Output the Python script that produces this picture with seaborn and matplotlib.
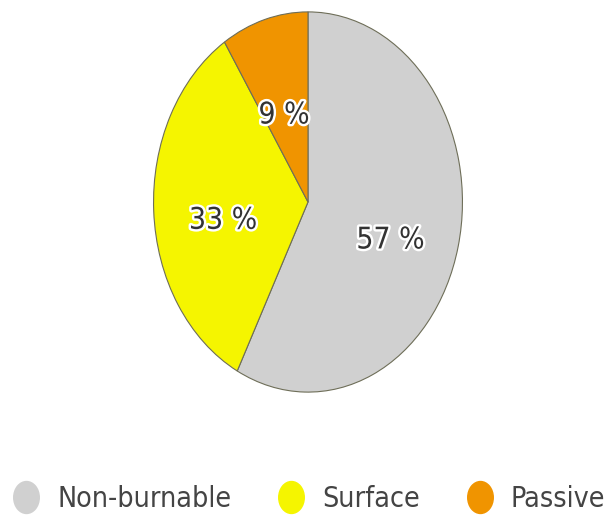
import matplotlib
matplotlib.use('Agg')
import matplotlib.pyplot as plt
import matplotlib.patheffects as pe
from matplotlib import font_manager
from matplotlib.lines import Line2D
from matplotlib.path import Path
from matplotlib.transforms import Affine2D
import seaborn as sns

# dados do gráfico
categorias = ['Non-burnable', 'Surface', 'Passive']
valores = [57, 33, 9]
rotulos = ['57 %', '33 %', '9 %']
cores = ['#d0d0d0', '#f5f500', '#f09400']

sns.set_theme(style='white')
plt.rcParams['font.family'] = ['Liberation Sans', 'DejaVu Sans']

# procurando uma fonte estreita (Narrow / Condensed) instalada
estreitas = sorted(
    f.fname for f in font_manager.fontManager.ttflist
    if ('Narrow' in f.fname or 'Condensed' in f.fname)
    and 'Bold' not in f.fname and 'Italic' not in f.fname
    and 'Oblique' not in f.fname and 'Light' not in f.fname
)
if estreitas:
    fp = font_manager.FontProperties(fname=estreitas[0])
    tam_rot, tam_leg = 21.5, 20.5
else:
    fp = font_manager.FontProperties(family='Liberation Sans')
    tam_rot, tam_leg = 21, 20.5

paleta = sns.color_palette(cores)

fig = plt.figure(figsize=(6.1, 5.16), dpi=100)
# eixo do pizza: elipse mais alta que larga
ax = fig.add_axes([152 / 610, (516 - 394) / 516, 312 / 610, 384 / 516])

fatias, textos, pcts = ax.pie(
    valores,
    colors=paleta,
    startangle=90,
    counterclock=False,
    autopct=lambda p: '',
    pctdistance=0.55,
    wedgeprops=dict(edgecolor='#6e6e58', linewidth=0.8),
)
ax.set_aspect('auto')
ax.set_xlim(-1.01, 1.01)
ax.set_ylim(-1.01, 1.01)
ax.axis('off')

for t, rot in zip(pcts, rotulos):
    x, y = t.get_position()
    t.set_position((x, y - 0.07))
    t.set_text(rot)
    t.set_fontproperties(fp)
    t.set_fontsize(tam_rot)
    t.set_color('#333333')
    t.set_path_effects([pe.withStroke(linewidth=3.5, foreground='white')])

# legenda com marcadores ovais
oval = Affine2D().scale(0.8, 1.0).transform_path(Path.unit_circle())
handles = [Line2D([0], [0], marker=oval, linestyle='', markersize=23,
                  markerfacecolor=c, markeredgecolor=c) for c in paleta]
fp_leg = fp.copy()
fp_leg.set_size(tam_leg)
leg = fig.legend(handles, categorias, loc='center left', ncol=3,
                 bbox_to_anchor=(12 / 610, 1 - 499 / 516), frameon=False,
                 prop=fp_leg, handlelength=1.0, handletextpad=0.59,
                 columnspacing=1.6, borderpad=0, borderaxespad=0)
for t in leg.get_texts():
    t.set_color('#444444')

fig.savefig('out.png', dpi=100)
